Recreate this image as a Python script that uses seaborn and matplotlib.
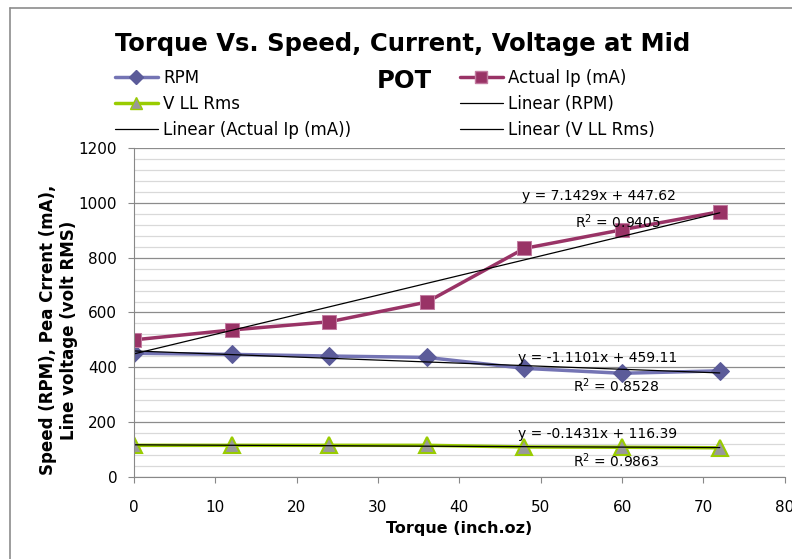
import numpy as np
import pandas as pd
import matplotlib.pyplot as plt
from matplotlib.lines import Line2D
import seaborn as sns

torque = [0, 12, 24, 36, 48, 60, 72]
rpm = [451, 447, 441, 436, 396, 378, 387]
current = [500, 536, 566, 638, 834, 902, 968]
vll = [115, 115, 115, 115, 109, 108, 106]

df = pd.DataFrame({"torque": torque, "rpm": rpm, "current": current, "vll": vll})

sns.set_style("white")
plt.rcParams['font.family'] = ['DejaVu Sans']
plt.rcParams.update({"text.color": "black", "axes.labelcolor": "black",
                     "xtick.color": "black", "ytick.color": "black"})

fig = plt.figure(figsize=(7.92, 5.59), dpi=100)
ax = fig.add_axes([0.169, 0.147, 0.822, 0.588])

c_cur = "#993366"
c_v = "#99CC00"

sns.lineplot(data=df, x="torque", y="rpm", ax=ax, color="#7474B4", lw=2.5,
             marker="D", markersize=9, markerfacecolor="#5B5B99", markeredgecolor="#5B5B99")
sns.lineplot(data=df, x="torque", y="current", ax=ax, color=c_cur, lw=2.5,
             marker="s", markersize=10, markerfacecolor=c_cur, markeredgecolor="#C27BA0")
sns.lineplot(data=df, x="torque", y="vll", ax=ax, color=c_v, lw=2.5,
             marker="^", markersize=11, markerfacecolor="#999999", markeredgecolor=c_v,
             markeredgewidth=1.5)

for col in ["rpm", "current", "vll"]:
    sns.regplot(data=df, x="torque", y=col, ax=ax, scatter=False, ci=None,
                color="black", line_kws={"lw": 0.9})

eq_font = dict(fontsize=10, ha="center", va="center")
ax.text(57.2, 1025, "y = 7.1429x + 447.62", **eq_font)
ax.text(59.5, 932, "R$^2$ = 0.9405", **eq_font)
ax.text(57.0, 434, "y = -1.1101x + 459.11", **eq_font)
ax.text(59.3, 332, "R$^2$ = 0.8528", **eq_font)
ax.text(57.0, 157, "y = -0.1431x + 116.39", **eq_font)
ax.text(59.3, 58, "R$^2$ = 0.9863", **eq_font)

ax.set_xlim(0, 80)
ax.set_ylim(0, 1200)
ax.set_xticks(range(0, 81, 10))
ax.set_yticks(range(0, 1201, 200))
ax.set_yticks(range(0, 1201, 40), minor=True)
ax.grid(axis="y", which="major", color="#8C8C8C", lw=0.9)
ax.grid(axis="y", which="minor", color="#D9D9D9", lw=0.9)
ax.set_axisbelow(True)
ax.tick_params(axis="both", labelsize=11, length=4, direction="out", color="#888888",
               bottom=True, left=True)
ax.tick_params(axis="x", pad=13)
ax.tick_params(axis="y", pad=8)
ax.tick_params(axis="y", which="minor", left=False)
for s in ["top", "right"]:
    ax.spines[s].set_visible(False)
for s in ["left", "bottom"]:
    ax.spines[s].set_color("#888888")

ax.set_xlabel("Torque (inch.oz)", fontsize=11.5, fontweight="bold", labelpad=4)
ax.set_ylabel("Speed (RPM), Pea Crrent (mA),\nLine voltage (volt RMS)",
              fontsize=12, fontweight="bold")
ax.yaxis.set_label_coords(-0.086, 0.447)

fig.text(0.508, 0.921, "Torque Vs. Speed, Current, Voltage at Mid", fontsize=17.5,
         fontweight="bold", ha="center", va="center")
fig.text(0.511, 0.855, "POT", fontsize=17.5, fontweight="bold", ha="center", va="center")

handles = [
    Line2D([], [], color="#7474B4", lw=2.5, marker="D", markersize=7,
           markerfacecolor="#5B5B99", markeredgecolor="#5B5B99"),
    Line2D([], [], color=c_v, lw=2.5, marker="^", markersize=9,
           markerfacecolor="#999999", markeredgecolor=c_v),
    Line2D([], [], color="black", lw=0.9),
    Line2D([], [], color=c_cur, lw=2.5, marker="s", markersize=8,
           markerfacecolor=c_cur, markeredgecolor="#C27BA0"),
    Line2D([], [], color="black", lw=0.9),
    Line2D([], [], color="black", lw=0.9),
]
labels = ["RPM", "V LL Rms", "Linear (Actual Ip (mA))",
          "Actual Ip (mA)", "Linear (RPM)", "Linear (V LL Rms)"]
fig.legend(handles, labels, ncol=2, loc="upper left", bbox_to_anchor=(0.126, 0.904),
           frameon=False, fontsize=12, handlelength=2.6,
           handletextpad=0.3, columnspacing=6.5, labelspacing=0.5)

# chart area border (top and left edges visible in the crop)
fig.add_artist(Line2D([0.0126, 1], [0.9857, 0.9857], color="#8C8C8C", lw=1.2))
fig.add_artist(Line2D([0.0126, 0.0126], [0, 0.9857], color="#8C8C8C", lw=1.2))

fig.savefig("out.png", dpi=100)
